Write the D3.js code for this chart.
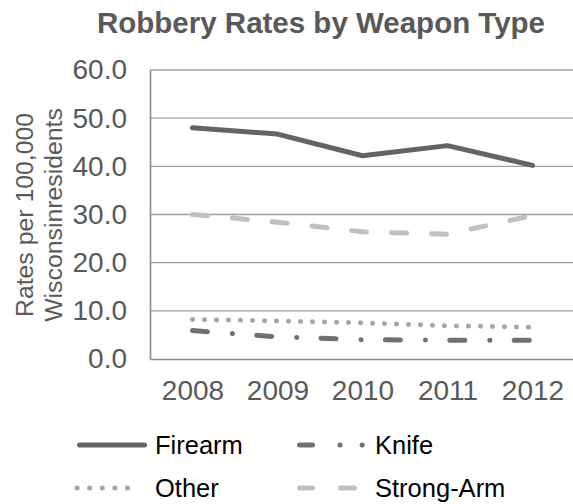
<!DOCTYPE html>
<html>
<head>
<meta charset="utf-8">
<script src="https://d3js.org/d3.v7.min.js"></script>
<style>
body { margin:0; background:#fff; }
text { font-family: "Liberation Sans", Arial, sans-serif; }
</style>
</head>
<body>
<div id="chart"></div>
<script>
// data
var years = ["2008", "2009", "2010", "2011", "2012"];
var firearm = [48.0, 46.7, 42.2, 44.3, 40.2];
var knife = [5.9, 4.6, 4.0, 3.9, 3.9];
var other = [8.2, 7.9, 7.5, 6.9, 6.6];
var strongArm = [30.0, 28.4, 26.4, 25.9, 29.8];
var yTicks = [0, 10, 20, 30, 40, 50, 60];
var seriesNames = ["Firearm", "Knife", "Other", "Strong-Arm"];

var styles = [
  {color: "#646464", dash: null, legendDash: null},
  {color: "#707070", dash: "15,25,0.1,24.3", legendDash: "13,27.5,0.1,22,0.1,200"},
  {color: "#a5a5a5", dash: "0.1,11.9", legendDash: "0.1,12.5"},
  {color: "#c0c0c0", dash: "15,25", legendDash: "13,28,14,200"}
];
var allValues = [firearm, knife, other, strongArm];

var W = 573, H = 504;
var margin = {top: 70, left: 150};
var width = 425;
var height = 289;

var svg = d3.select("#chart").append("svg")
  .attr("width", W).attr("height", H);

svg.append("text")
  .attr("x", 321).attr("y", 33)
  .attr("text-anchor", "middle")
  .attr("font-size", "29.5px").attr("font-weight", "bold")
  .attr("fill", "#595959")
  .text("Robbery Rates by Weapon Type");

var g = svg.append("g").attr("transform", "translate(" + margin.left + "," + margin.top + ")");

var x = d3.scalePoint().domain(years).range([0, width]).padding(0.5);
var y = d3.scaleLinear().domain([0, 60]).range([height, 0]);

// gridlines
g.selectAll(".grid").data(yTicks.slice(1)).enter().append("line")
  .attr("x1", 0).attr("x2", width)
  .attr("y1", function(d){ return y(d); }).attr("y2", function(d){ return y(d); })
  .attr("stroke", "#a0a0a0").attr("stroke-width", 1.3);

var axisY = d3.axisLeft(y).tickValues(yTicks).tickSize(0).tickPadding(23)
  .tickFormat(d3.format(".1f"));
var gy = g.append("g").call(axisY);
gy.select(".domain").attr("stroke", "#898989").attr("stroke-width", 1.6);
gy.selectAll("text").attr("font-size", "28px").attr("fill", "#595959")
  .attr("font-family", "Liberation Sans, Arial, sans-serif");

var axisX = d3.axisBottom(x).tickSize(0).tickPadding(21);
var gx = g.append("g").attr("transform", "translate(0," + height + ")").call(axisX);
gx.select(".domain").attr("stroke", "#898989").attr("stroke-width", 1.6);
gx.selectAll("text").attr("font-size", "28px").attr("fill", "#595959")
  .attr("font-family", "Liberation Sans, Arial, sans-serif");

// y axis title
var yt = svg.append("text")
  .attr("transform", "translate(0,215) rotate(-90)")
  .attr("text-anchor", "middle")
  .attr("font-size", "24.8px").attr("fill", "#595959");
yt.append("tspan").attr("x", 0).attr("y", 33).text("Rates per 100,000");
yt.append("tspan").attr("x", 0).attr("y", 62).text("Wisconsinresidents");

var line = d3.line()
  .x(function(d, i){ return x(years[i]); })
  .y(function(d){ return y(d); });

allValues.forEach(function(vals, i){
  g.append("path").datum(vals)
    .attr("d", line)
    .attr("fill", "none")
    .attr("stroke", styles[i].color)
    .attr("stroke-width", 5)
    .attr("stroke-linecap", "round")
    .attr("stroke-linejoin", "round")
    .attr("stroke-dasharray", styles[i].dash);
});

// legend
var legendPos = [
  {x: 79.5, y: 445, len: 65, tx: 155},
  {x: 299.5, y: 445, len: 63, tx: 375},
  {x: 77, y: 488, len: 63, tx: 155},
  {x: 299.5, y: 488, len: 55, tx: 375}
];
seriesNames.forEach(function(name, i){
  var p = legendPos[i];
  svg.append("line").attr("x1", p.x).attr("x2", p.x + p.len)
    .attr("y1", p.y).attr("y2", p.y)
    .attr("stroke", styles[i].color).attr("stroke-width", 5)
    .attr("stroke-linecap", "round")
    .attr("stroke-dasharray", styles[i].legendDash);
  svg.append("text").attr("x", p.tx).attr("y", p.y + 8.5)
    .attr("font-size", "25.5px").attr("fill", "#000")
    .text(name);
});
</script>
</body>
</html>
